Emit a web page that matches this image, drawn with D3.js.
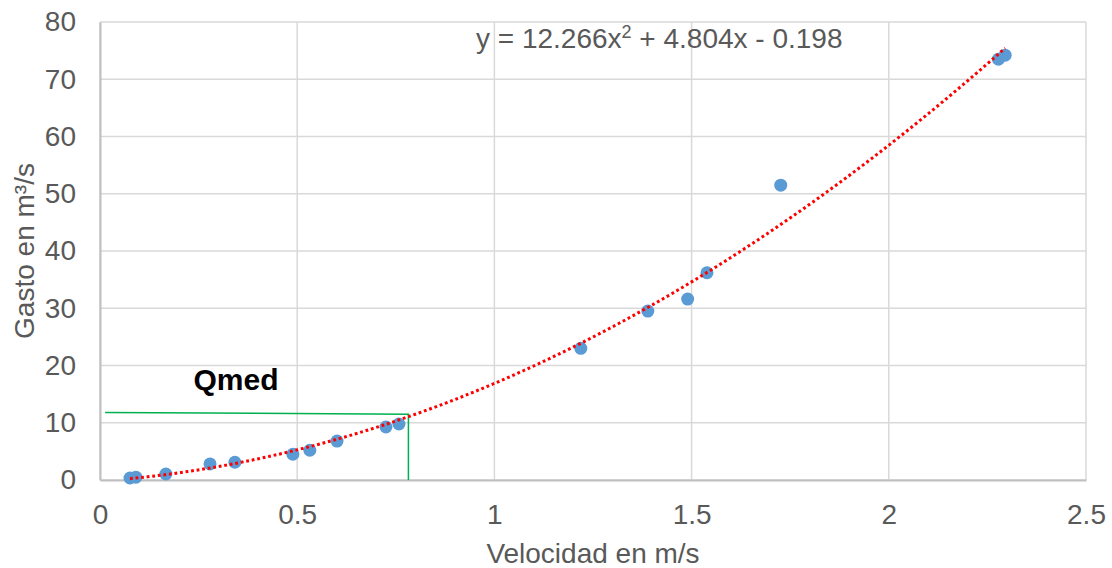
<!DOCTYPE html>
<html>
<head>
<meta charset="utf-8">
<script src="https://cdn.jsdelivr.net/npm/d3@7"></script>
<style>
  body { margin: 0; background: #fff; }
  text { font-family: "Liberation Sans", Arial, sans-serif; }
</style>
</head>
<body>
<div id="chart"></div>
<script>
// velocity (m/s) and discharge (m3/s)
const velocidad = [0.076, 0.091, 0.167, 0.279, 0.342, 0.489, 0.532, 0.601, 0.725, 0.758,
                   1.219, 1.389, 1.490, 1.539, 1.726, 2.278, 2.295];
const gasto = [0.35, 0.5, 1.05, 2.8, 3.1, 4.5, 5.2, 6.8, 9.26, 9.78,
               23.0, 29.5, 31.6, 36.2, 51.5, 73.5, 74.2];

// polynomial trend coefficients shown on the chart
const coefs = [12.266, 4.804, -0.198];

const xTicks = [0, 0.5, 1, 1.5, 2, 2.5];
const yTicks = [0, 10, 20, 30, 40, 50, 60, 70, 80];

// green Qmed guide lines (data units)
const qmedH = [[0.013, 11.8], [0.782, 11.5]];
const qmedV = [[0.782, 11.6], [0.782, 0]];

const width = 1112, height = 568;
const margin = {top: 22, right: 26, bottom: 88, left: 100};

const svg = d3.select("#chart").append("svg")
  .attr("width", width)
  .attr("height", height);

const x = d3.scaleLinear().domain([0, 2.5]).range([margin.left, width - margin.right]);
const y = d3.scaleLinear().domain([0, 80]).range([height - margin.bottom, margin.top]);

// gridlines
svg.append("g")
  .selectAll("line")
  .data(yTicks)
  .join("line")
  .attr("x1", x(0)).attr("x2", x(2.5))
  .attr("y1", d => y(d)).attr("y2", d => y(d))
  .attr("stroke", "#d9d9d9")
  .attr("stroke-width", 1.5);

svg.append("g")
  .selectAll("line")
  .data(xTicks)
  .join("line")
  .attr("x1", d => x(d)).attr("x2", d => x(d))
  .attr("y1", y(0)).attr("y2", y(80))
  .attr("stroke", "#d9d9d9")
  .attr("stroke-width", 1.5);

// axes
const xAxis = svg.append("g")
  .attr("transform", `translate(0,${y(0)})`)
  .call(d3.axisBottom(x).tickValues(xTicks).tickSize(0).tickPadding(24).tickFormat(d3.format("")));
const yAxis = svg.append("g")
  .attr("transform", `translate(${x(0)},0)`)
  .call(d3.axisLeft(y).tickValues(yTicks).tickSize(0).tickPadding(24));

[xAxis, yAxis].forEach(a => {
  a.select(".domain").attr("stroke", "#bfbfbf").attr("stroke-width", 2);
  a.selectAll("text")
    .attr("fill", "#595959")
    .style("font-size", "28px")
    .style("font-family", "'Liberation Sans', Arial, sans-serif");
});

// axis titles
svg.append("text")
  .attr("x", (x(0) + x(2.5)) / 2)
  .attr("y", 563)
  .attr("text-anchor", "middle")
  .attr("fill", "#595959")
  .style("font-size", "28px")
  .text("Velocidad en m/s");

svg.append("text")
  .attr("transform", `translate(34,${(y(0) + y(80)) / 2}) rotate(-90)`)
  .attr("text-anchor", "middle")
  .attr("fill", "#595959")
  .style("font-size", "28px")
  .text("Gasto en m³/s");

// Qmed guide lines
const line = d3.line().x(d => x(d[0])).y(d => y(d[1]));
[qmedH, qmedV].forEach(seg => {
  svg.append("path")
    .attr("d", line(seg))
    .attr("fill", "none")
    .attr("stroke", "#00b050")
    .attr("stroke-width", 1.5);
});

svg.append("text")
  .attr("x", 236)
  .attr("y", 390)
  .attr("text-anchor", "middle")
  .attr("fill", "#000")
  .style("font-size", "30px")
  .style("font-weight", "bold")
  .text("Qmed");

// points
svg.append("g")
  .selectAll("circle")
  .data(velocidad.map((v, i) => [v, gasto[i]]))
  .join("circle")
  .attr("cx", d => x(d[0]))
  .attr("cy", d => y(d[1]))
  .attr("r", 6.5)
  .attr("fill", "#5b9bd5");

// trendline from the fitted polynomial
const xMin = d3.min(velocidad), xMax = d3.max(velocidad);
const trend = d3.range(0, 101).map(i => {
  const v = xMin + (xMax - xMin) * i / 100;
  return [v, coefs[0] * v * v + coefs[1] * v + coefs[2]];
});
svg.append("path")
  .attr("d", line(trend))
  .attr("fill", "none")
  .attr("stroke", "#ff0000")
  .attr("stroke-width", 3)
  .attr("stroke-dasharray", "2.8,2.8");

// equation label
const eq = svg.append("text")
  .attr("x", 476)
  .attr("y", 48)
  .attr("fill", "#595959")
  .style("font-size", "28px");
eq.append("tspan").text("y = 12.266x");
eq.append("tspan").attr("dy", -10).style("font-size", "18px").text("2");
eq.append("tspan").attr("dy", 10).text(" + 4.804x - 0.198");
</script>
</body>
</html>
